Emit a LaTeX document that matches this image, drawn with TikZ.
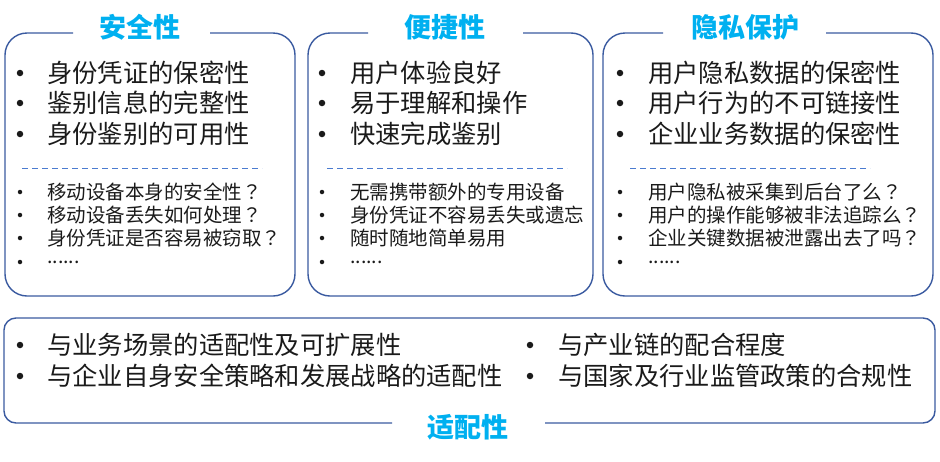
\documentclass[tikz,border=0pt]{standalone}
\usepackage{fontspec}
\setmainfont{Noto Sans CJK SC}
\newfontfamily\tcfont{Noto Sans CJK TC}
\definecolor{titlecyan}{HTML}{00B0F0}
\definecolor{boxblue}{HTML}{3A5AA0}
\definecolor{dashblue}{HTML}{4A7BD0}
\definecolor{txt}{HTML}{1A1A1A}
\newcommand{\mysixdots}{......}
\newcommand{\myq}{{\tcfont ？}}
\tikzset{
  boxline/.style={draw=boxblue, line width=1.4pt},
  sepline/.style={draw=dashblue, line width=1pt, dash pattern=on 6pt off 4pt},
  title/.style={text=titlecyan, font=\fontsize{27}{30}\selectfont\bfseries, inner sep=0pt},
  bigtxt/.style={text=txt, font=\fontsize{25.3}{28}\selectfont, anchor=west, inner sep=0pt},
  smalltxt/.style={text=txt, font=\fontsize{19.5}{22}\selectfont, anchor=west, inner sep=0pt},
  bigdot/.style={circle, fill=txt, inner sep=0pt, minimum size=6.5pt},
  smalldot/.style={circle, fill=txt, inner sep=0pt, minimum size=4.5pt},
}
\begin{document}
\begin{tikzpicture}[x=1pt,y=-1pt]
\useasboundingbox (0,0) rectangle (940,461);
% ---------- box outlines ----------
\draw[boxline, rounded corners=22pt] (210,33) -- (295,33) -- (295,296) -- (5,296) -- (5,33) -- (73,33);
\draw[boxline, rounded corners=22pt] (523,33) -- (593,33) -- (593,296) -- (308,296) -- (308,33) -- (368,33);
\draw[boxline, rounded corners=22pt] (826,33) -- (933,33) -- (933,296) -- (603,296) -- (603,33) -- (663,33);
\draw[boxline, rounded corners=12pt] (392,423) -- (4,423) -- (4,318) -- (935,318) -- (935,423) -- (545,423);
% ---------- titles ----------
\node[title] (t1) at (140,27) {安全性};
\node[title] (t2) at (445,27) {便捷性};
\node[title] (t3) at (745,27) {隐私保护};
\node[title] (t4) at (468,427) {适配性};
% ---------- separators ----------
\coordinate (s1a) at (22,168); \coordinate (s1b) at (262,168);
\coordinate (s2a) at (327,168); \coordinate (s2b) at (567,168);
\coordinate (s3a) at (630,168); \coordinate (s3b) at (870,168);
\draw[sepline] (s1a) -- (s1b);
\draw[sepline] (s2a) -- (s2b);
\draw[sepline] (s3a) -- (s3b);
% ---------- box 1 ----------
\foreach \y/\t [count=\i] in {73/身份凭证的保密性,103/鉴别信息的完整性,134/身份鉴别的可用性}{
  \node[bigdot] (b1d\i) at (20,\y) {};
  \node[bigtxt] (b1t\i) at (47,\y) {\t};
}
\foreach \y/\t [count=\i] in {192/移动设备本身的安全性\myq,215/移动设备丢失如何处理\myq,238/身份凭证是否容易被窃取\myq,262/\mysixdots}{
  \node[smalldot] (s1d\i) at (20,\y) {};
  \node[smalltxt] (s1t\i) at (47,\y) {\t};
}
% ---------- box 2 ----------
\foreach \y/\t [count=\i] in {73/用户体验良好,103/易于理解和操作,134/快速完成鉴别}{
  \node[bigdot] (b2d\i) at (322,\y) {};
  \node[bigtxt] (b2t\i) at (350,\y) {\t};
}
\foreach \y/\t [count=\i] in {192/无需携带额外的专用设备,215/身份凭证不容易丢失或遗忘,238/随时随地简单易用,262/\mysixdots}{
  \node[smalldot] (s2d\i) at (322,\y) {};
  \node[smalltxt] (s2t\i) at (350,\y) {\t};
}
% ---------- box 3 ----------
\foreach \y/\t [count=\i] in {73/用户隐私数据的保密性,103/用户行为的不可链接性,134/企业业务数据的保密性}{
  \node[bigdot] (b3d\i) at (620,\y) {};
  \node[bigtxt] (b3t\i) at (648,\y) {\t};
}
\foreach \y/\t [count=\i] in {192/用户隐私被采集到后台了么\myq,215/用户的操作能够被非法追踪么\myq,238/企业关键数据被泄露出去了吗\myq,262/\mysixdots}{
  \node[smalldot] (s3d\i) at (620,\y) {};
  \node[smalltxt] (s3t\i) at (648,\y) {\t};
}
% ---------- bottom box ----------
\foreach \y/\t [count=\i] in {345/与业务场景的适配性及可扩展性,376/与企业自身安全策略和发展战略的适配性}{
  \node[bigdot] (b4d\i) at (20,\y) {};
  \node[bigtxt] (b4t\i) at (47,\y) {\t};
}
\foreach \y/\t [count=\i] in {345/与产业链的配合程度,376/与国家及行业监管政策的合规性}{
  \node[bigdot] (b5d\i) at (530,\y) {};
  \node[bigtxt] (b5t\i) at (558,\y) {\t};
}
\end{tikzpicture}
\end{document}
